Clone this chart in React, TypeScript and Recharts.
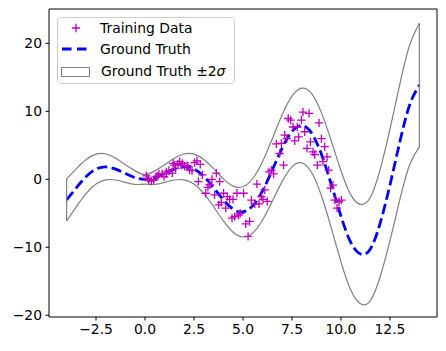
import { ComposedChart, Line, Scatter, XAxis, YAxis, ReferenceLine, Legend } from 'recharts';

// curve grid (x) and values
const gridX = [-4, -3.5, -3, -2.5, -2, -1.5, -1, -0.5, 0, 0.5, 1, 1.5, 2, 2.5, 3, 3.5, 4, 4.5, 5, 5.5, 6, 6.5, 7, 7.5, 8, 8.5, 9, 9.5, 10, 10.5, 11, 11.5, 12, 12.5, 13, 13.5, 14];
const truth = [-3.03, -1.23, 0.42, 1.5, 1.82, 1.5, 0.84, 0.24, 0, 0.24, 0.84, 1.5, 1.82, 1.5, 0.42, -1.23, -3.03, -4.4, -4.79, -3.88, -1.68, 1.4, 4.6, 7.04, 7.91, 6.8, 3.71, -0.71, -5.44, -9.29, -11.0, -10.25, -6.44, -0.83, 5.46, 10.9, 13.87];
const upper = [0.07, 1.57, 2.92, 3.7, 3.72, 3.1, 2.14, 1.24, 0.7, 1.24, 2.14, 3.1, 3.72, 3.7, 2.92, 1.57, 0.07, -1.0, -1.09, 0.12, 2.62, 6.0, 9.5, 12.24, 13.41, 12.6, 9.81, 5.69, 1.26, -2.29, -3.7, -2.65, 1.46, 7.37, 13.96, 19.7, 22.97];
const lower = [-6.13, -4.03, -2.08, -0.7, -0.08, -0.1, -0.46, -0.76, -0.7, -0.76, -0.46, -0.1, -0.08, -0.7, -2.08, -4.03, -6.13, -7.8, -8.49, -7.88, -5.98, -3.2, -0.3, 1.84, 2.41, 1.0, -2.39, -7.11, -12.14, -16.29, -18.3, -17.85, -14.34, -9.03, -3.04, 2.1, 4.77];

// training samples
const trainX = [0.07, 0.15, 0.19, 0.32, 0.44, 0.58, 0.66, 0.71, 0.87, 0.97, 1.09, 1.09, 1.22, 1.39, 1.43, 1.5, 1.56, 1.68, 1.77, 1.85, 1.9, 2.02, 2.14, 2.19, 2.28, 2.4, 2.53, 2.65, 2.72, 2.82, 2.93, 3.1, 3.21, 3.3, 3.42, 3.55, 3.64, 3.76, 3.81, 3.89, 4.01, 4.12, 4.2, 4.32, 4.44, 4.49, 4.57, 4.69, 4.78, 4.86, 5.03, 5.14, 5.26, 5.34, 5.43, 5.6, 5.71, 5.82, 5.94, 6.02, 6.11, 6.24, 6.33, 6.45, 6.56, 6.7, 6.87, 6.96, 7.07, 7.13, 7.24, 7.31, 7.43, 7.55, 7.64, 7.77, 7.84, 7.98, 8.06, 8.15, 8.27, 8.37, 8.44, 8.57, 8.66, 8.79, 8.88, 9.0, 9.08, 9.17, 9.29, 9.37, 9.47, 9.59, 9.68, 9.8, 9.9, 10.02];
const trainY = [0.5, 0.15, -0.1, -0.25, -0.1, 0.4, 0.5, 0.8, 0.8, 0.4, 0.8, 1.1, 1.3, 0.9, 2.35, 2.1, 1.6, 2.25, 2.6, 2.1, 2.35, 1.95, 2.0, 1.95, 1.37, 1.27, 2.45, 2.7, -0.35, 2.2, 0.65, -2.05, -1.2, -0.8, 0.0, -2.3, 0.9, -3.75, -0.35, -3.4, -2.05, -4.25, -2.55, -2.95, -5.7, -2.95, -5.5, -2.05, -5.25, -5.0, -2.05, -6.55, -8.4, -6.2, -3.05, -3.6, -0.7, -3.6, -2.55, -2.95, -1.55, -3.25, 1.1, 1.35, 0.8, 5.2, 3.8, 5.3, 2.1, 6.5, 6.0, 8.95, 8.7, 7.7, 5.65, 7.7, 6.25, 8.7, 9.9, 7.0, 4.55, 9.7, 5.5, 4.05, 3.65, 2.1, 8.3, 6.0, 2.6, 4.8, 3.3, 1.35, -1.3, -0.85, -3.05, -4.25, -3.3, -3.05];

const xTicks = [-2.5, 0, 2.5, 5, 7.5, 10, 12.5];
const yTicks = [-20, -10, 0, 10, 20];

const curveData = gridX.map((x, i) => ({ x, truth: truth[i], upper: upper[i], lower: lower[i] }));
const trainData = trainX.map((x, i) => ({ x, y: trainY[i] }));

const last = gridX.length - 1;
const X_DOMAIN: [number, number] = [-4.9, 14.9];
const Y_DOMAIN: [number, number] = [-20.26, 25.06];
const FONT = 'DejaVu Sans';
const MAGENTA = '#bf00bf';

const fmt = (v: number, digits: number) => v.toFixed(digits).replace('-', '\u2212');

const Cross = (props: any) => {
  const { cx, cy } = props;
  const h = 4.15;
  return (
    <path d={`M${cx - h},${cy}H${cx + h}M${cx},${cy - h}V${cy + h}`} stroke={MAGENTA} strokeWidth={1.3} fill="none" />
  );
};

function LegendBox() {
  const text = { fontFamily: FONT, fontSize: 13.9, fill: '#000' };
  return (
    <svg width={178} height={67} style={{ display: 'block' }}>
      <rect x={0.5} y={0.5} width={177} height={66} rx={3} fill="#fff" fillOpacity={0.8} stroke="#cccccc" />
      <path d="M14.85,11H23.15M19,6.85V15.15" stroke={MAGENTA} strokeWidth={1.3} />
      <text x={43} y={16} {...text}>Training Data</text>
      <line x1={5} y1={32} x2={30} y2={32} stroke="#0000ff" strokeWidth={2.8} strokeDasharray="9.5 5.5" />
      <text x={43} y={37} {...text}>Ground Truth</text>
      <rect x={4.5} y={50.5} width={28} height={9} fill="#fff" stroke="#808080" strokeWidth={1} />
      <text x={44} y={59} {...text}>
        Ground Truth ±2<tspan fontStyle="italic">σ</tspan>
      </text>
    </svg>
  );
}

export default function App() {
  const tick = { fill: '#000', fontSize: 13.9, fontFamily: FONT };
  return (
    <div style={{ position: 'absolute', left: 0, top: 0 }}>
      <ComposedChart width={446} height={351} margin={{ top: 8, right: 8, bottom: 4, left: 0 }}>
        <XAxis
          dataKey="x"
          type="number"
          domain={X_DOMAIN}
          allowDataOverflow
          ticks={xTicks}
          tickFormatter={(v) => fmt(v, 1)}
          tick={tick}
          tickSize={3.5}
          tickMargin={3.5}
          height={30}
          stroke="#000"
        />
        <XAxis xAxisId="top" orientation="top" type="number" domain={X_DOMAIN} tick={false} tickLine={false} height={1} stroke="#000" />
        <YAxis
          type="number"
          domain={Y_DOMAIN}
          allowDataOverflow
          ticks={yTicks}
          tickFormatter={(v) => fmt(v, 0)}
          tick={tick}
          tickSize={3.5}
          tickMargin={3.5}
          width={49}
          stroke="#000"
        />
        <YAxis yAxisId="right" orientation="right" type="number" domain={Y_DOMAIN} tick={false} tickLine={false} width={1} stroke="#000" />
        <Scatter data={trainData} dataKey="y" shape={<Cross />} isAnimationActive={false} />
        <Line data={curveData} dataKey="truth" type="natural" stroke="#0000ff" strokeWidth={2.8} strokeDasharray="10.3 4.4" dot={false} activeDot={false} isAnimationActive={false} />
        <Line data={curveData} dataKey="upper" type="natural" stroke="#808080" strokeWidth={1.2} dot={false} activeDot={false} isAnimationActive={false} />
        <Line data={curveData} dataKey="lower" type="natural" stroke="#808080" strokeWidth={1.2} dot={false} activeDot={false} isAnimationActive={false} />
        <ReferenceLine segment={[{ x: gridX[0], y: lower[0] }, { x: gridX[0], y: upper[0] }]} stroke="#808080" strokeWidth={1.2} />
        <ReferenceLine segment={[{ x: gridX[last], y: lower[last] }, { x: gridX[last], y: upper[last] }]} stroke="#808080" strokeWidth={1.2} />
        <Legend
          layout="vertical"
          align="center"
          verticalAlign="middle"
          wrapperStyle={{ position: 'absolute', left: 57, top: 17, width: 178, height: 67 }}
          content={() => <LegendBox />}
        />
      </ComposedChart>
    </div>
  );
}
